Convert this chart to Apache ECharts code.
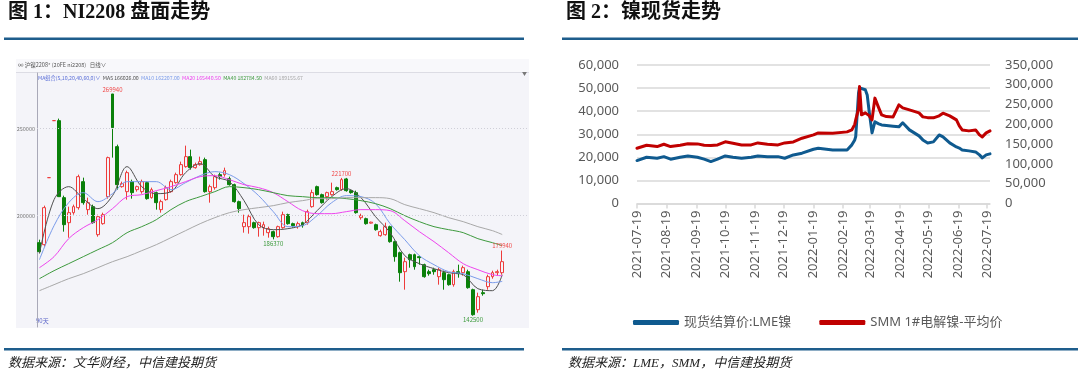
<!DOCTYPE html>
<html><head><meta charset="utf-8">
<script src="https://cdn.jsdelivr.net/npm/echarts@6/dist/echarts.min.js"></script>
<style>html,body{margin:0;padding:0;background:#fff}#c{width:1080px;height:386px}</style>
</head><body><div id="c"></div>
<script>
// ================= Figure 1: NI2208 daily candles =================
const niOpen  = [184475,183325,221850,254625,254625,210350,195975,201725,204600,219550,203450,205175,189075,195400,210925,269940,239675,216675,213800,219550,214950,213800,218975,210350,213225,203450,209200,213800,218975,223575,228175,233925,227600,229325,232200,213800,216100,223575,223575,221275,217825,208050,193675,193675,195975,193100,193100,190225,190800,187925,193100,200575,195400,193675,195975,195975,205175,216675,212075,210925,212075,216100,214950,221100,214375,213225,198850,198275,195690,194825,188500,189075,193675,185050,178725,167800,177575,177575,176425,171825,167800,168950,164925,167225,166075,160325,167800,167225,167800,157450,145950,155725,159175,164925,167225,167225];
const niClose = [179300,204600,221850,254625,210925,194825,201725,205175,222425,207475,207475,195975,199425,200575,233350,250600,217825,218400,224725,213225,216675,219550,209775,214950,207475,208050,216100,219550,223575,229325,233925,227600,229325,231050,213800,216675,222425,222425,225875,217825,208050,204025,195975,199425,193100,195975,194825,192525,187925,193675,200575,195400,194250,195400,194250,202300,213225,212075,207475,213225,213800,214950,220700,214375,213225,201725,200000,195400,196260,191950,190800,193675,185050,176425,167225,173550,174700,170675,175850,164925,166650,167800,168950,163200,160325,167800,166650,170100,158600,143075,153425,155150,164925,167225,167800,173550];
const niLow   = [178725,182175,221850,254625,210925,190800,187350,200575,203450,206325,200575,195400,187925,194825,209775,233350,214950,216100,209200,209775,213800,212650,209200,209775,203450,201725,208625,213225,218400,223000,227600,226450,227025,228750,213225,207475,214950,220700,222425,217250,207475,201725,190225,189650,192525,187925,188500,187350,186370,187350,192525,194825,193100,192525,193100,194825,204600,211500,206900,209200,211500,214375,214375,213800,212650,201150,197700,194825,195400,191375,187925,188500,184475,173550,162050,157450,170100,168950,171825,164350,165500,166075,160325,157450,159750,159175,164350,165500,158025,142500,144225,154000,157450,163775,165500,166075];
const niHigh  = [186200,205750,221850,254625,255775,211500,205175,206325,223575,221850,210350,206325,200575,201725,233925,269940,240825,219550,225875,220700,217250,220700,219550,216100,213800,209200,217250,220700,224725,231050,240250,237950,230475,233925,233350,217825,223575,224725,227600,222425,218400,208625,200575,200575,196550,196550,196550,193675,191375,194250,202300,201150,195975,196550,196550,203450,214950,217250,212650,213800,218975,216675,221700,221700,214950,214375,201150,198850,196550,195400,191950,195975,194250,185625,179300,175850,178150,178150,177000,172400,168950,170100,170100,168375,166650,168950,171825,171250,168950,158025,155725,157450,166075,168375,168950,179940];
// moving averages, read at every third candle
const maSampleIdx = [0,3,6,9,12,15,18,21,24,27,30,33,36,39,42,45,48,51,54,57,60,63,66,69,72,75,78,81,84,87,90,93,95];
const ma5  = [178150,209200,216675,209775,204025,211500,228175,216675,212650,213800,224725,229900,222425,219550,208625,194825,191950,192525,194825,202875,210925,215525,210350,199425,190225,177000,172400,169525,167225,166075,158025,156875,166026];
const ma10 = [174700,194250,207475,213225,208050,212650,219550,219550,219550,214950,218975,223000,225300,223575,218400,211500,202300,193675,194250,200000,207475,211500,210925,206900,195400,186200,177000,171825,167800,166650,163775,161475,162207];
const ma20 = [170100,176425,186775,193100,197700,204025,210925,212075,214375,216675,219550,222425,223000,220700,217825,216100,213225,208050,202875,201150,201150,202300,203450,203450,202875,197125,190800,185050,178725,172400,168950,166075,165440.5];
const ma40 = [163775,168375,172400,176425,180450,184475,190225,193675,197700,203450,208050,210925,213800,216675,216100,214950,213225,211500,210925,210350,210350,209775,208625,206900,204025,200000,196550,193675,191950,190225,186775,184475,182784.5];
const ma60 = [156875,160325,163775,166650,170100,173550,176425,179875,183325,187350,191375,195400,198850,201725,203450,204600,205750,207475,208625,209775,209775,210350,210350,210350,209775,206325,204025,201725,198850,196550,193675,191375,189155.67];
const niGridValues = [200000, 250000];
const niMarked = [[15,'high'],[48,'low'],[62,'high'],[89,'low'],[95,'high']];

// ================= Figure 2: nickel spot =================
const spotDates = ['2021-07-19','2021-07-29','2021-08-09','2021-08-16','2021-08-23','2021-09-02','2021-09-10','2021-09-20','2021-09-27','2021-10-04','2021-10-11','2021-10-19','2021-10-21','2021-10-27','2021-11-05','2021-11-15','2021-11-22','2021-12-02','2021-12-13','2021-12-20','2021-12-29','2022-01-07','2022-01-19','2022-01-24','2022-02-08','2022-02-23','2022-02-28','2022-03-03','2022-03-04','2022-03-07','2022-03-08','2022-03-09','2022-03-10','2022-03-14','2022-03-16','2022-03-18','2022-03-21','2022-03-24','2022-03-28','2022-03-31','2022-04-05','2022-04-12','2022-04-18','2022-04-22','2022-04-29','2022-05-09','2022-05-13','2022-05-18','2022-05-24','2022-05-30','2022-06-03','2022-06-10','2022-06-17','2022-06-20','2022-06-23','2022-06-30','2022-07-07','2022-07-11','2022-07-14','2022-07-18','2022-07-22'];
const lmeNickel = [18600,20050,19600,20300,19200,20050,20600,20050,19200,18150,19200,20600,20400,20050,19600,20050,20600,20300,20300,19600,21050,21800,23500,23950,23200,23200,25400,27550,29000,48000,50100,50100,49500,49300,47000,40000,30600,35400,34500,34050,33800,33500,33200,34950,31900,29300,27550,26250,26700,29700,28850,26250,24500,24000,23200,22800,22350,21050,19750,21050,21500];
const smmNickel = [139700,147300,143800,149800,143800,147300,151000,150600,147000,146300,148000,156000,160700,152400,148000,148000,153100,149800,148000,153100,155700,165000,173400,178400,177700,181000,186000,200000,211300,240000,295600,262000,224000,229000,228300,222000,211300,266300,241700,224000,219700,218900,249300,241700,236600,229000,218900,217000,216400,221500,228300,221500,211300,196200,186000,183500,186000,173400,168300,178400,183500];
const spotAxisStart = '2021-07-19', spotAxisEnd = '2022-07-22', spotLastTick = '2022-07-19';

// ---------- build helpers ----------
const nCandles = niOpen.length;
const candleCats = [];
for (let i = 0; i < nCandles + 5; i++) candleCats.push('K' + (i + 1));
const candleData = niOpen.map((o, i) => [o, niClose[i], niLow[i], niHigh[i]]);
function maSeriesData(vals) {
  const arr = new Array(nCandles).fill(null);
  maSampleIdx.forEach((idx, k) => { arr[idx] = vals[k]; });
  return arr;
}
const spotCats = [];
(function () {
  const d = new Date(spotAxisStart + 'T00:00:00Z');
  const end = new Date(spotAxisEnd + 'T00:00:00Z');
  while (d <= end) { spotCats.push(d.toISOString().slice(0, 10)); d.setUTCDate(d.getUTCDate() + 1); }
})();
const isMonthTick = (i, v) => v.slice(8) === '19' && v <= spotLastTick;

const latin = "'Noto Sans','Noto Sans CJK SC',sans-serif";
const tiny = "'Noto Sans CJK SC','Noto Sans',sans-serif";
const serifCJK = "'Liberation Serif','Noto Sans CJK SC',serif";

const maColors = {MA5:'#505050', MA10:'#7A9BEA', MA20:'#EE44EE', MA40:'#3E9A3E', MA60:'#A8A8A8'};
const maVals = {MA5: ma5, MA10: ma10, MA20: ma20, MA40: ma40, MA60: ma60};
const f2 = v => v.toFixed(2);
const maLegend = '{h|MA组合(5,10,20,40,60,0)∨}  ' + Object.keys(maVals).map(k => '{' + k + '|' + k + ' ' + f2(maVals[k][maVals[k].length - 1]) + '}').join('  ');
const maRich = {h: {fill:'#5B6FD8', fontSize:5.2, fontFamily: tiny}};
Object.keys(maColors).forEach(k => { maRich[k] = {fill: maColors[k], fontSize:5.2, fontFamily: tiny}; });

const chart = echarts.init(document.getElementById('c'), null, {renderer:'canvas', width:1080, height:386});

const markPts = niMarked.map(([i, kind]) => ({
  coord: [candleCats[i], kind === 'high' ? niHigh[i] : niLow[i]],
  value: kind === 'high' ? niHigh[i] : niLow[i],
  label: {position: kind === 'high' ? 'top' : 'bottom', color: kind === 'high' ? '#F04848' : '#3C9A3C'}
}));

const option = {
  animation: false,
  backgroundColor: '#ffffff',
  graphic: [
    {type:'text', left:8, top:3, style:{text:'图 1：NI2208 盘面走势', font:"bold 20px " + serifCJK, fill:'#111'}},
    {type:'text', left:566, top:3, style:{text:'图 2：镍现货走势', font:"bold 20px " + serifCJK, fill:'#111'}},
    {type:'rect', shape:{x:4, y:37.5, width:520, height:2.6}, style:{fill:'#1E5D8C'}},
    {type:'rect', shape:{x:562, y:37.5, width:516, height:2.6}, style:{fill:'#1E5D8C'}},
    {type:'rect', shape:{x:4, y:348, width:520, height:2.6}, style:{fill:'#1E5D8C'}},
    {type:'rect', shape:{x:562, y:348, width:516, height:2.6}, style:{fill:'#1E5D8C'}},
    {type:'text', left:8, top:357, style:{text:'数据来源：文华财经，中信建投期货', font:"italic 13px " + serifCJK, fill:'#222'}},
    {type:'text', left:568, top:357, style:{text:'数据来源：LME，SMM，中信建投期货', font:"italic 13px " + serifCJK, fill:'#222'}},
    // candle panel background
    {type:'rect', z:-10, shape:{x:16, y:59, width:513, height:269}, style:{fill:'#F4F4F9'}},
    {type:'rect', z:-9, shape:{x:16, y:59, width:513, height:13}, style:{fill:'#F8F8FB'}},
    {type:'line', z:-8, shape:{x1:16, y1:72.5, x2:529, y2:72.5}, style:{stroke:'#DCDCE4', lineWidth:1}},
    {type:'text', left:18, top:62, style:{text:'∞ 沪镍2208* (20FE ni2208)   日线∨', font:"5.5px " + tiny, fill:'#555'}},
    {type:'text', left:38, top:75, style:{text: maLegend, rich: maRich, font:"5.2px " + tiny}},
    {type:'text', left:36, top:318, style:{text:'90天', font:"6px " + tiny, fill:'#5A64C8'}},
    {type:'text', left:522, top:71, style:{text:'▼', font:"5px " + tiny, fill:'#777'}}
  ],
  grid: [
    {left:37, top:73, width:492, height:254},
    {left:637, top:65, width:353, height:138.5}
  ],
  xAxis: [
    {gridIndex:0, type:'category', data:candleCats, boundaryGap:true,
     axisLine:{show:false}, axisTick:{show:false}, axisLabel:{show:false}, splitLine:{show:false}},
    {gridIndex:1, type:'category', data:spotCats, boundaryGap:false,
     axisLine:{lineStyle:{color:'#D9D9D9', width:1.5}},
     axisTick:{interval:isMonthTick, length:5, lineStyle:{color:'#D9D9D9', width:1.5}},
     axisLabel:{interval:isMonthTick, rotate:90, margin:7, fontSize:13, color:'#595959', fontFamily:latin},
     splitLine:{show:false}}
  ],
  yAxis: [
    {gridIndex:0, type:'value', min:136000, max:282000, scale:true,
     axisLine:{show:true, lineStyle:{color:'#A9A9B8', width:1}}, axisTick:{show:false},
     axisLabel:{show:false}, splitLine:{show:false}},
    {gridIndex:1, type:'value', min:0, max:60000, interval:10000, position:'left',
     axisLine:{show:false}, axisTick:{show:false},
     axisLabel:{fontSize:13, color:'#595959', fontFamily:latin, margin:18, formatter:v => v.toLocaleString('en-US')},
     splitLine:{lineStyle:{color:'#D9D9D9', width:1.5}}},
    {gridIndex:1, type:'value', min:0, max:350000, interval:50000, position:'right',
     axisLine:{show:false}, axisTick:{show:false},
     axisLabel:{fontSize:13, color:'#595959', fontFamily:latin, margin:15, formatter:v => v.toLocaleString('en-US')},
     splitLine:{show:false}}
  ],
  legend: {
    data:['现货结算价:LME镍', 'SMM 1#电解镍-平均价'],
    left:628, top:311, itemWidth:46, itemHeight:5, itemGap:28, icon:'roundRect',
    textStyle:{fontSize:13, color:'#595959', fontFamily:latin}
  },
  series: [
    {type:'candlestick', name:'NI2208', xAxisIndex:0, yAxisIndex:0, data:candleData, barWidth:'70%',
     itemStyle:{color:'#F4F4F9', borderColor:'#EE3B3B', color0:'#0A800A', borderColor0:'#0A800A', borderWidth:1},
     markLine:{silent:true, symbol:'none', data:niGridValues.map(v => ({yAxis:v})),
       lineStyle:{color:'#CFCFD8', type:[1,2], width:1},
       label:{position:'start', distance:2, formatter:'{c}', fontSize:5.5, color:'#777', fontFamily:tiny}},
     markPoint:{silent:true, symbol:'rect', symbolSize:[1,1], itemStyle:{color:'rgba(0,0,0,0)'},
       label:{show:true, formatter:'{c}', fontSize:6, distance:1, fontFamily:tiny}, data:markPts}},
    ...Object.keys(maVals).map(k => ({
      type:'line', name:k, xAxisIndex:0, yAxisIndex:0, data:maSeriesData(maVals[k]), connectNulls:true,
      smooth:0.35, symbol:'none', lineStyle:{width:1, color:maColors[k]}, z:3
    })),
    {type:'line', name:'现货结算价:LME镍', xAxisIndex:1, yAxisIndex:1, symbol:'none',
     data: spotDates.map((d, i) => [d, lmeNickel[i]]), itemStyle:{color:'#0F5A8F'},
     lineStyle:{width:3, color:'#0F5A8F', cap:'round', join:'round'}},
    {type:'line', name:'SMM 1#电解镍-平均价', xAxisIndex:1, yAxisIndex:2, symbol:'none',
     data: spotDates.map((d, i) => [d, smmNickel[i]]), itemStyle:{color:'#C00000'},
     lineStyle:{width:3, color:'#C00000', cap:'round', join:'round'}}
  ]
};
chart.setOption(option);
</script></body></html>
